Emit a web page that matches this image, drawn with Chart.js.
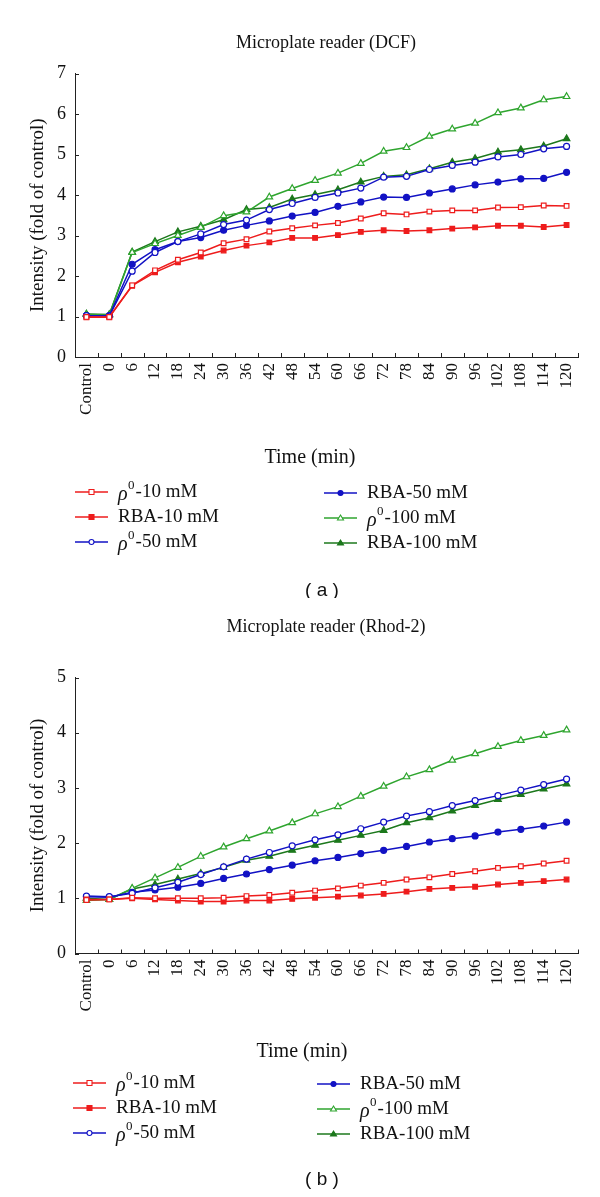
<!DOCTYPE html>
<html>
<head>
<meta charset="utf-8">
<script src="https://cdn.jsdelivr.net/npm/chart.js@4"></script>
<style>
  body { margin: 0; background: #fff; }
  canvas { display: block; }
</style>
</head>
<body>
<canvas id="chart-a" width="600" height="598"></canvas>
<canvas id="chart-b" width="600" height="599"></canvas>
<script>
// time points (min)
const labels = ['Control', '0', '6', '12', '18', '24', '30', '36', '42', '48', '54', '60',
  '66', '72', '78', '84', '90', '96', '102', '108', '114', '120'];

// (a) DCF
const dcfRho10 = [0.99, 0.99, 1.77, 2.14, 2.40, 2.58, 2.81, 2.91, 3.10, 3.18, 3.25, 3.31, 3.42, 3.55, 3.52, 3.59, 3.62, 3.62, 3.69, 3.70, 3.74, 3.73];
const dcfRba10 = [0.98, 0.98, 1.76, 2.09, 2.34, 2.48, 2.63, 2.75, 2.83, 2.94, 2.94, 3.01, 3.09, 3.13, 3.11, 3.13, 3.17, 3.20, 3.24, 3.24, 3.21, 3.26];
const dcfRho50 = [1.02, 1.01, 2.12, 2.58, 2.85, 3.04, 3.27, 3.38, 3.64, 3.79, 3.94, 4.05, 4.17, 4.44, 4.46, 4.63, 4.73, 4.81, 4.94, 5.00, 5.14, 5.20];
const dcfRba50 = [1.02, 1.02, 2.29, 2.65, 2.85, 2.95, 3.13, 3.25, 3.36, 3.48, 3.57, 3.72, 3.83, 3.95, 3.94, 4.05, 4.15, 4.25, 4.32, 4.40, 4.41, 4.56];
const dcfRho100 = [1.05, 1.04, 2.58, 2.80, 3.00, 3.20, 3.49, 3.58, 3.95, 4.16, 4.36, 4.54, 4.78, 5.08, 5.17, 5.45, 5.63, 5.77, 6.03, 6.15, 6.35, 6.43];
const dcfRba100 = [1.06, 1.05, 2.59, 2.85, 3.09, 3.23, 3.39, 3.64, 3.69, 3.90, 4.01, 4.13, 4.32, 4.46, 4.50, 4.65, 4.81, 4.90, 5.06, 5.12, 5.21, 5.39];

// (b) Rhod-2
const rhodRho10 = [0.97, 0.98, 1.01, 1.00, 1.00, 1.00, 1.01, 1.04, 1.06, 1.10, 1.14, 1.18, 1.23, 1.28, 1.34, 1.38, 1.44, 1.49, 1.55, 1.58, 1.63, 1.68];
const rhodRba10 = [0.98, 0.98, 1.00, 0.98, 0.96, 0.94, 0.94, 0.96, 0.96, 0.99, 1.01, 1.03, 1.05, 1.08, 1.12, 1.17, 1.19, 1.21, 1.25, 1.28, 1.31, 1.34];
const rhodRho50 = [1.04, 1.03, 1.09, 1.19, 1.29, 1.43, 1.57, 1.71, 1.83, 1.95, 2.06, 2.15, 2.26, 2.38, 2.49, 2.57, 2.68, 2.77, 2.86, 2.96, 3.06, 3.16];
const rhodRba50 = [1.03, 1.02, 1.11, 1.15, 1.20, 1.27, 1.36, 1.44, 1.52, 1.60, 1.68, 1.74, 1.81, 1.87, 1.94, 2.02, 2.08, 2.13, 2.20, 2.25, 2.31, 2.38];
const rhodRho100 = [0.96, 0.98, 1.18, 1.37, 1.56, 1.76, 1.93, 2.08, 2.22, 2.37, 2.53, 2.66, 2.85, 3.03, 3.20, 3.33, 3.50, 3.62, 3.75, 3.86, 3.95, 4.05];
const rhodRba100 = [1.00, 0.98, 1.17, 1.25, 1.35, 1.45, 1.56, 1.69, 1.76, 1.87, 1.96, 2.05, 2.14, 2.23, 2.37, 2.46, 2.58, 2.68, 2.79, 2.88, 2.98, 3.07];

const seriesNames = ['ρ0-10 mM', 'RBA-10 mM', 'ρ0-50 mM', 'RBA-50 mM', 'ρ0-100 mM', 'RBA-100 mM'];

const RED = '#ee1c1c';
const BLUE = '#1212c4';
const LGREEN = '#2fa52f';
const DGREEN = '#1c781c';
const SERIF = '"Liberation Serif", "DejaVu Serif", serif';

const styles = [
  { color: RED, point: 'rect', open: true, r: 3.3 },
  { color: RED, point: 'rect', open: false, r: 3.3 },
  { color: BLUE, point: 'circle', open: true, r: 3 },
  { color: BLUE, point: 'circle', open: false, r: 3 },
  { color: LGREEN, point: 'triangle', open: true, r: 3.8 },
  { color: DGREEN, point: 'triangle', open: false, r: 3.8 }
];

function makeDatasets(values) {
  return values.map((data, i) => {
    let s = styles[i];
    return {
      label: seriesNames[i],
      data: data,
      borderColor: s.color,
      borderWidth: 1.5,
      pointStyle: s.point,
      pointRadius: s.r,
      pointBorderWidth: 1.2,
      pointBorderColor: s.color,
      pointBackgroundColor: s.open ? '#ffffff' : s.color,
      fill: false,
      tension: 0
    };
  });
}

// draws titles, inward tick marks, the two-column legend and caption
function decorPlugin(cfg) {
  return {
    id: 'decor',
    afterDraw(chart) {
      const ctx = chart.ctx;
      const x = chart.scales.x, y = chart.scales.y;
      const area = chart.chartArea;
      ctx.save();
      ctx.strokeStyle = '#222';
      ctx.lineWidth = 1;

      // inward ticks on y axis
      y.ticks.forEach(t => {
        let py = Math.round(y.getPixelForValue(t.value)) + 0.5;
        ctx.beginPath();
        ctx.moveTo(area.left, py);
        ctx.lineTo(area.left + 4, py);
        ctx.stroke();
      });
      // inward ticks on x axis, at category boundaries
      const band = (x.getPixelForValue(1) - x.getPixelForValue(0));
      for (let i = 1; i <= labels.length; i++) {
        let px = Math.round(x.getPixelForValue(i) - band / 2) + 0.5;
        ctx.beginPath();
        ctx.moveTo(px, area.bottom);
        ctx.lineTo(px, area.bottom - 4);
        ctx.stroke();
      }

      ctx.fillStyle = '#111';
      ctx.textAlign = 'center';
      ctx.textBaseline = 'middle';

      // title
      ctx.font = '18px ' + SERIF;
      ctx.fillText(cfg.title, 326, cfg.titleY);

      // y axis title
      ctx.save();
      ctx.translate(38, (area.top + area.bottom) / 2);
      ctx.rotate(-Math.PI / 2);
      ctx.font = '19px ' + SERIF;
      ctx.fillText('Intensity (fold of control)', 0, 0);
      ctx.restore();

      // x axis title
      ctx.font = '20px ' + SERIF;
      ctx.fillText('Time (min)', cfg.xTitleX, cfg.xTitleY);

      // legend, column by column
      chart.data.datasets.forEach((ds, i) => {
        let col = i < 3 ? 0 : 1;
        let row = i % 3;
        let lx = cfg.legendX[col];
        let ly = cfg.legendY[col] + row * 25;
        ctx.strokeStyle = ds.borderColor;
        ctx.lineWidth = 1.5;
        ctx.beginPath();
        ctx.moveTo(lx, ly);
        ctx.lineTo(lx + 33, ly);
        ctx.stroke();
        ctx.lineWidth = 1.1;
        ctx.fillStyle = ds.pointBackgroundColor;
        let mx = lx + 16.5, r = 2.5;
        ctx.beginPath();
        if (ds.pointStyle === 'rect') {
          ctx.rect(mx - r, ly - r, 2 * r, 2 * r);
        } else if (ds.pointStyle === 'circle') {
          ctx.arc(mx, ly, r, 0, Math.PI * 2);
        } else {
          ctx.moveTo(mx, ly - r - 0.5);
          ctx.lineTo(mx + r + 0.5, ly + r - 0.5);
          ctx.lineTo(mx - r - 0.5, ly + r - 0.5);
          ctx.closePath();
        }
        ctx.fill();
        ctx.stroke();

        // label text with italic rho and superscript 0
        ctx.fillStyle = '#111';
        ctx.textAlign = 'left';
        let tx = lx + cfg.textGap;
        let label = ds.label;
        if (label.startsWith('ρ0')) {
          ctx.font = 'italic 20px ' + SERIF;
          ctx.fillText('ρ', tx, ly + 3);
          tx += ctx.measureText('ρ').width + 0.5;
          ctx.font = '13px ' + SERIF;
          ctx.fillText('0', tx, ly - 6);
          tx += ctx.measureText('0').width + 1;
          label = label.slice(2);
        }
        ctx.font = '19px ' + SERIF;
        ctx.fillText(label, tx, ly);
        ctx.textAlign = 'center';
      });

      // caption
      ctx.fillStyle = '#111';
      ctx.font = '19px "Liberation Sans", Arial, sans-serif';
      ctx.fillText(cfg.caption, 322, cfg.captionY);
      ctx.restore();
    }
  };
}

function drawChart(id, values, cfg) {
  const canvas = document.getElementById(id);
  const H = canvas.height;
  new Chart(canvas, {
    type: 'line',
    data: { labels: labels, datasets: makeDatasets(values) },
    options: {
      responsive: false,
      animation: false,
      layout: {
        padding: { left: 0, right: 22, top: cfg.top, bottom: H - cfg.bottom - 70 }
      },
      plugins: {
        legend: { display: false },
        tooltip: { enabled: false },
        title: { display: false }
      },
      scales: {
        x: {
          type: 'category',
          offset: true,
          grid: { display: false, drawTicks: false },
          border: { display: true, color: '#222', width: 1 },
          ticks: {
            color: '#111',
            font: { family: SERIF, size: 17 },
            minRotation: 90,
            maxRotation: 90,
            autoSkip: false,
            padding: 6
          },
          afterFit(scale) { scale.height = 70; }
        },
        y: {
          min: 0,
          max: cfg.yMax,
          grid: { display: false, drawTicks: false },
          border: { display: true, color: '#222', width: 1 },
          ticks: {
            stepSize: 1,
            color: '#111',
            font: { family: SERIF, size: 18 },
            padding: 9
          },
          afterFit(scale) { scale.width = 75; }
        }
      }
    },
    plugins: [decorPlugin(cfg)]
  });
}

window.onload = function() {
  drawChart('chart-a', [dcfRho10, dcfRba10, dcfRho50, dcfRba50, dcfRho100, dcfRba100], {
    title: 'Microplate reader (DCF)',
    titleY: 43,
    top: 73.5,
    bottom: 357,
    yMax: 7,
    xTitleX: 310,
    xTitleY: 458,
    legendX: [75, 324],
    legendY: [492, 493],
    textGap: 43,
    caption: '( a )',
    captionY: 591
  });
  drawChart('chart-b', [rhodRho10, rhodRba10, rhodRho50, rhodRba50, rhodRho100, rhodRba100], {
    title: 'Microplate reader (Rhod-2)',
    titleY: 29,
    top: 79.5,
    bottom: 355.5,
    yMax: 5,
    xTitleX: 302,
    xTitleY: 454,
    legendX: [73, 317],
    legendY: [485, 486],
    textGap: 43,
    caption: '( b )',
    captionY: 582
  });
};
</script>
</body>
</html>
